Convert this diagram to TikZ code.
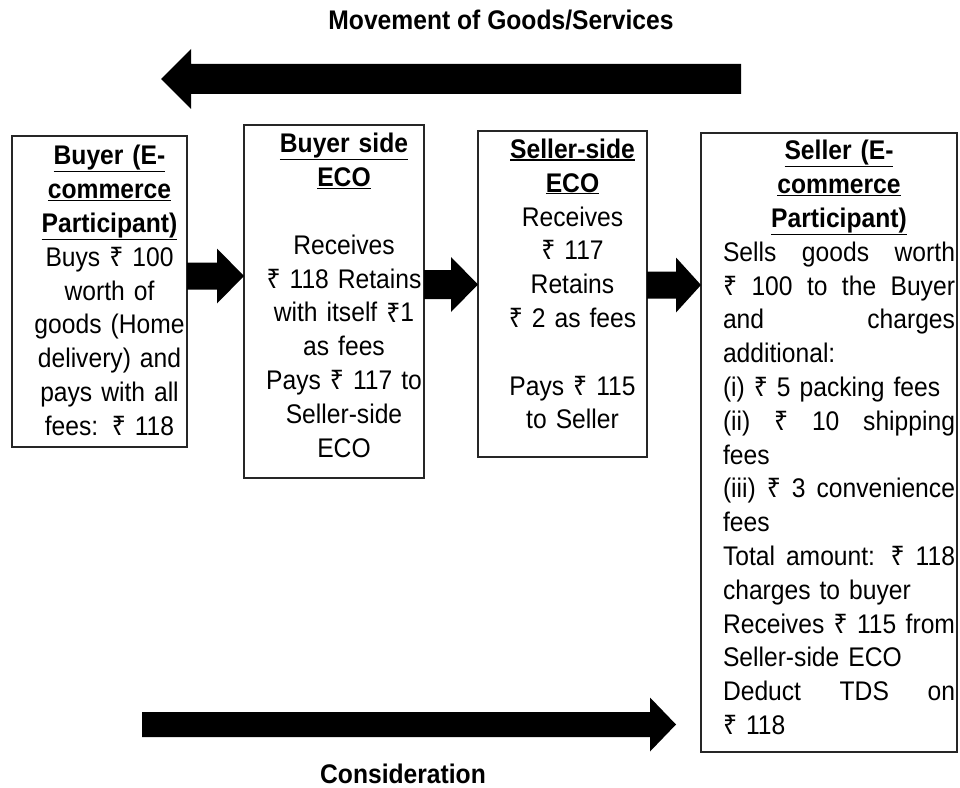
\documentclass[tikz,border=0pt]{standalone}
\usepackage{fontspec}
\setmainfont{Liberation Sans}[FakeStretch=0.915]
\newfontfamily\rupeefont{Noto Sans}[FakeStretch=0.915]
\usetikzlibrary{calc}

% Indian rupee sign, a per-line underline, centred and spread lines
\newcommand\rs{{\rupeefont ₹}}
\newcommand\ul[1]{\setbox0\hbox{#1}\rlap{\rule[-\dimexpr\dp0+1.3pt\relax]{\wd0}{0.9pt}}\box0}
\newcommand\cenline[1]{\leavevmode\hbox to\hsize{\hss#1\hss}}
\newcommand\hdline[1]{\cenline{\textbf{\ul{#1}}}}
\newcommand\fullline[1]{\leavevmode\hbox to\hsize{#1}}
\newcommand\lftline[1]{\leavevmode\hbox to\hsize{#1\hss}}

% block arrow: tail, tip, half shaft, half head, head base offset from tip
\newcommand\fatarrow[5]{%
  \fill[fatarrow] ($(#1)+(0,-#3)$) -- ($(#2)+(#5,-#3)$) -- ($(#2)+(#5,-#4)$) -- (#2)
    -- ($(#2)+(#5,#4)$) -- ($(#2)+(#5,#3)$) -- ($(#1)+(0,#3)$) -- cycle;}

\tikzset{
  party/.style={draw=black!85, line width=0.9pt, inner sep=0pt, outer sep=0pt, anchor=north west},
  txt/.style={font=\fontsize{20.2}{25.35}\selectfont, inner sep=0pt, outer sep=0pt,
              anchor=base west, align=left},
  flowlabel/.style={font=\fontsize{20.2}{25.35}\selectfont\bfseries, inner sep=0pt, anchor=base},
  fatarrow/.style={fill=black}
}

\begin{document}
\begin{tikzpicture}[x=0.75pt, y=-0.75pt]
\useasboundingbox (0,0) rectangle (960,788);

% the four participants
\node[party, minimum width=131.25pt, minimum height=233.25pt] (buyer)  at (12,136) {};
\node[party, minimum width=135pt,    minimum height=264.75pt] (bside)  at (244,125) {};
\node[party, minimum width=126.75pt, minimum height=244.5pt]  (sside)  at (478,131) {};
\node[party, minimum width=192pt,    minimum height=464.25pt] (seller) at (701,133) {};

\node[txt, text width=113.25pt] (buyertext) at ($(buyer.north west)+(22,29)$)
  {\hdline{Buyer (E-}\\\hdline{commerce}\\\hdline{Participant)}\\
   \cenline{Buys \rs{} 100}\\\cenline{worth of}\\\cenline{goods (Home}\\\cenline{delivery) and}\\
   \cenline{pays with all}\\\cenline{fees: \rs{} 118}};

\node[txt, text width=117pt] (bsidetext) at ($(bside.north west)+(22,28)$)
  {\hdline{Buyer side}\\\hdline{ECO}\\[25.35pt]
   \cenline{Receives}\\\cenline{\rs{} 118 Retains}\\\cenline{with itself \rs1}\\\cenline{as fees}\\
   \cenline{Pays \rs{} 117 to}\\\cenline{Seller-side}\\\cenline{ECO}};

\node[txt, text width=108.75pt] (ssidetext) at ($(sside.north west)+(22,27.6)$)
  {\hdline{Seller-side}\\\hdline{ECO}\\\cenline{Receives}\\\cenline{\rs{} 117}\\\cenline{Retains}\\
   \cenline{\rs{} 2 as fees}\\[25.35pt]
   \cenline{Pays \rs{} 115}\\\cenline{to Seller}};

\node[txt, text width=174pt] (sellertext) at ($(seller.north west)+(22,27)$)
  {\hdline{Seller (E-}\\\hdline{commerce}\\\hdline{Participant)}\\
   \fullline{Sells \hfill goods \hfill worth}\\
   \fullline{\rs{} \hfill 100 \hfill to \hfill the \hfill Buyer}\\
   \fullline{and \hfill charges}\\
   \lftline{additional:}\\
   \lftline{(i) \rs{} 5 packing fees}\\
   \fullline{(ii) \hfill \rs{} \hfill 10 \hfill shipping}\\
   \lftline{fees}\\
   \fullline{(iii) \hfill \rs{} \hfill 3 \hfill convenience}\\
   \lftline{fees}\\
   \fullline{Total \hfill amount: \hfill \rs{} \hfill 118}\\
   \lftline{charges to buyer}\\
   \fullline{Receives \hfill \rs{} \hfill 115 \hfill from}\\
   \lftline{Seller-side ECO}\\
   \fullline{Deduct \hfill TDS \hfill on}\\
   \lftline{\rs{} 118}};

% payment chain between the participants
\coordinate (a1s) at (buyer.east |- 0,276);
\coordinate (a1t) at (bside.west |- 0,276);
\coordinate (a2s) at (bside.east |- 0,284.5);
\coordinate (a2t) at (sside.west |- 0,284.5);
\coordinate (a3s) at (sside.east |- 0,285);
\coordinate (a3t) at (seller.west |- 0,285);
\fatarrow{a1s}{a1t}{13.5}{27.5}{-27}
\fatarrow{a2s}{a2t}{14.5}{27.5}{-27}
\fatarrow{a3s}{a3t}{13.5}{27.5}{-25}

% goods flow (top) and consideration flow (bottom)
\node[flowlabel] (goodslabel) at (501,30) {Movement of Goods/Services};
\coordinate (goodsTail) at (741,79);
\coordinate (goodsTip)  at (161,79);
\fatarrow{goodsTail}{goodsTip}{15}{30}{30}

\coordinate (payTail) at (142,724.5);
\coordinate (payTip)  at (676,724.5);
\fatarrow{payTail}{payTip}{12.5}{27}{-26}
\node[flowlabel] (paylabel) at (403,783) {Consideration};
\end{tikzpicture}
\end{document}
